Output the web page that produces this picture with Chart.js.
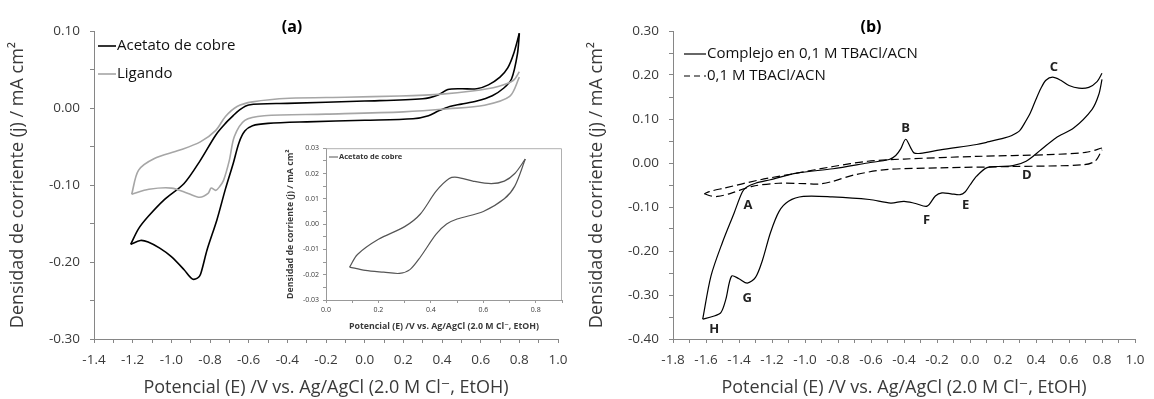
<!DOCTYPE html>
<html><head><meta charset="utf-8">
<script src="https://cdn.jsdelivr.net/npm/chart.js@4.4.1/dist/chart.umd.min.js"></script>
<style>
html,body{margin:0;padding:0;background:#fff;}
#wrap{position:relative;width:1154px;height:399px;overflow:hidden;background:#fff;}
.panel{position:absolute;top:0;width:577px;height:399px;}
#pa{left:0}#pb{left:577px}
#inset{position:absolute;left:282px;top:140px;width:288px;height:198px;background:#fff;}
canvas{display:block;}
</style></head><body>
<div id="wrap">
<div class="panel" id="pa"><canvas id="ca" width="577" height="399"></canvas></div>
<div class="panel" id="pb"><canvas id="cb" width="577" height="399"></canvas></div>
<div id="inset"><canvas id="ci" width="288" height="198"></canvas></div>
</div>
<script>
// ---------- Panel (a): Acetato de cobre (black) ----------
const aBlackUpE = [0.80,0.77,0.74,0.70,0.64,0.58,0.50,0.43,0.38,0.30,0.00,-0.40,-0.60,-0.65,-0.68,-0.72,-0.77,-0.85,-0.934,-1.036,-1.12,-1.17,-1.21];
const aBlackUpJ = [0.097,0.070,0.052,0.040,0.030,0.025,0.025,0.024,0.017,0.012,0.009,0.006,0.004,-0.003,-0.010,-0.020,-0.035,-0.068,-0.098,-0.119,-0.141,-0.157,-0.177];
const aBlackLoE = [-1.21,-1.16,-1.12,-1.06,-1.00,-0.934,-0.892,-0.865,-0.849,-0.815,-0.764,-0.72,-0.68,-0.65,-0.62,-0.58,-0.50,-0.30,0.00,0.25,0.33,0.38,0.44,0.50,0.58,0.66,0.72,0.76,0.79,0.80];
const aBlackLoJ = [-0.177,-0.172,-0.174,-0.182,-0.193,-0.210,-0.222,-0.221,-0.216,-0.184,-0.145,-0.105,-0.072,-0.045,-0.030,-0.023,-0.020,-0.018,-0.016,-0.014,-0.010,-0.004,0.002,0.005,0.009,0.016,0.026,0.038,0.070,0.097];
// ---------- Panel (a): Ligando (gray) ----------
const aGrayUpE = [0.80,0.77,0.69,0.556,0.40,0.18,-0.10,-0.39,-0.58,-0.66,-0.72,-0.77,-0.85,-0.96,-1.09,-1.17,-1.205];
const aGrayUpJ = [0.047,0.036,0.028,0.022,0.018,0.0156,0.014,0.0126,0.008,0.002,-0.011,-0.029,-0.044,-0.055,-0.066,-0.081,-0.112];
const aGrayLoE = [-1.205,-1.116,-1.00,-0.913,-0.853,-0.81,-0.794,-0.77,-0.75,-0.73,-0.70,-0.674,-0.62,-0.52,-0.20,0.20,0.435,0.62,0.75,0.80];
const aGrayLoJ = [-0.112,-0.1056,-0.104,-0.111,-0.116,-0.111,-0.104,-0.107,-0.102,-0.094,-0.068,-0.037,-0.016,-0.010,-0.008,-0.005,-0.001,0.0036,0.015,0.040];
// ---------- Inset: Acetato de cobre ----------
const inUpE = [0.09,0.12,0.20,0.30,0.36,0.42,0.47,0.50,0.56,0.63,0.68,0.72,0.76];
const inUpJ = [-0.017,-0.012,-0.006,-0.001,0.004,0.013,0.018,0.0185,0.017,0.016,0.017,0.020,0.0257];
const inLoE = [0.09,0.15,0.22,0.28,0.32,0.36,0.42,0.46,0.50,0.60,0.68,0.72,0.76];
const inLoJ = [-0.017,-0.0183,-0.019,-0.0195,-0.018,-0.013,-0.004,0.000,0.002,0.005,0.010,0.015,0.0257];
// ---------- Panel (b): Complejo (solid) ----------
const bUpE = [0.80,0.77,0.72,0.66,0.60,0.55,0.50,0.46,0.43,0.40,0.366,0.33,0.30,0.25,0.21,0.10,0.04,-0.18,-0.30,-0.34,-0.36,-0.39,-0.42,-0.45,-0.49,-0.62,-0.83,-1.05,-1.21,-1.30,-1.35,-1.38,-1.43,-1.50,-1.57,-1.62];
const bUpJ = [0.204,0.185,0.172,0.170,0.176,0.188,0.195,0.188,0.170,0.145,0.114,0.090,0.073,0.062,0.057,0.047,0.042,0.030,0.022,0.023,0.035,0.054,0.032,0.017,0.008,0.000,-0.013,-0.023,-0.038,-0.046,-0.054,-0.066,-0.114,-0.180,-0.257,-0.355];
const bLoE = [-1.62,-1.56,-1.51,-1.48,-1.445,-1.40,-1.35,-1.30,-1.257,-1.21,-1.157,-1.10,-1.01,-0.835,-0.61,-0.48,-0.40,-0.33,-0.26,-0.21,-0.17,-0.115,-0.06,-0.03,0.0,0.04,0.10,0.17,0.26,0.34,0.43,0.52,0.63,0.74,0.78,0.80];
const bLoJ = [-0.355,-0.349,-0.340,-0.310,-0.257,-0.263,-0.273,-0.260,-0.220,-0.159,-0.110,-0.087,-0.076,-0.077,-0.083,-0.091,-0.087,-0.092,-0.098,-0.075,-0.068,-0.070,-0.072,-0.066,-0.050,-0.030,-0.011,-0.008,-0.006,0.004,0.030,0.057,0.080,0.122,0.155,0.190];
// ---------- Panel (b): blank electrolyte (dashed) ----------
const dUpE = [0.80,0.70,0.475,0.04,-0.40,-0.62,-0.83,-1.05,-1.27,-1.49,-1.58,-1.61];
const dUpJ = [0.034,0.024,0.019,0.015,0.009,0.004,-0.008,-0.023,-0.038,-0.057,-0.065,-0.070];
const dLoE = [-1.61,-1.57,-1.53,-1.45,-1.32,-1.16,-1.00,-0.92,-0.835,-0.70,-0.51,-0.18,0.26,0.69,0.76,0.80];
const dLoJ = [-0.070,-0.075,-0.076,-0.069,-0.053,-0.046,-0.047,-0.048,-0.042,-0.027,-0.015,-0.011,-0.008,-0.004,0.005,0.030];
// ---------- Peak labels (b) ----------
const peakNames = ['A','B','C','D','E','F','G','H'];
const peakE = [-1.345,-0.39,0.508,0.344,-0.026,-0.263,-1.35,-1.55];
const peakJ = [-0.095,0.078,0.218,-0.027,-0.095,-0.130,-0.308,-0.377];
// ---------- Texts ----------
const legendA = ['Acetato de cobre','Ligando'];
const legendB = ['Complejo en 0,1 M TBACl/ACN','0,1 M TBACl/ACN'];
const insetLegend = 'Acetato de cobre';
const yTitle = 'Densidad de corriente (j) / mA cm²';
const xTitle = 'Potencial (E) /V vs. Ag/AgCl (2.0 M Cl⁻, EtOH)';
const panelTitles = ['(a)','(b)'];

const F = '"Open Sans", "DejaVu Sans", sans-serif';
const TXT = '#3a3a3a';
const AX = '#868686';

function pts(E,J){ return E.map((e,i)=>({x:e,y:J[i]})); }
function fmt(v,d){ if (Math.abs(v)<1e-9) v=0; return v.toFixed(d); }
function every(v,s){ const r=v/s; return Math.abs(r-Math.round(r))<1e-6; }

function line(data,color,width,dash){
  return {data, showLine:true, borderColor:color, borderWidth:width, borderDash:dash||[], pointRadius:0, fill:false, tension:0.3};
}

function axes(xmin,xmax,ymin,ymax,yStep,yLab,yDec,yW,xH,opt){
  return {
    x:{type:'linear',position:'bottom',min:xmin,max:xmax,
      ticks:{stepSize:opt.xStep,autoSkip:false,maxRotation:0,padding:opt.xPad,color:TXT,font:{family:F,size:opt.tick},
        callback:v=>every(v,opt.xLab)?fmt(v,1):''},
      grid:{drawOnChartArea:false,drawTicks:true,tickLength:opt.tl,color:opt.ax},
      border:{color:opt.ax,width:1},
      title:{display:true,text:xTitle,color:TXT,font:{family:F,size:opt.title,weight:opt.tw},padding:{top:0,bottom:opt.xtPad}},
      afterFit:s=>{s.height=xH;}
    },
    y:{type:'linear',position:'left',min:ymin,max:ymax,
      ticks:{stepSize:yStep,autoSkip:false,padding:opt.yPad,color:TXT,font:{family:F,size:opt.tick},
        callback:v=>every(v,yLab)?fmt(v,yDec):''},
      grid:{drawOnChartArea:false,drawTicks:true,tickLength:opt.tl,color:opt.ax},
      border:{color:opt.ax,width:1},
      title:{display:true,text:yTitle,color:TXT,font:{family:F,size:opt.title,weight:opt.tw},padding:{top:opt.ytPad,bottom:0}},
      afterFit:s=>{s.width=yW;}
    }
  };
}

const optA = {xStep:0.1,xLab:0.2,tick:13.5,title:18,tw:'normal',tl:4,xPad:9.5,yPad:10,xtPad:0,ytPad:7.2,ax:AX};
const optB = Object.assign({},optA,{ytPad:9.2});

// ---------- Panel (a) ----------
const overlayA = {id:'overlayA', afterDraw(c){
  const x=c.ctx; x.save();
  x.fillStyle='#000'; x.font='bold 16px '+F; x.textAlign='center'; x.textBaseline='middle';
  x.fillText(panelTitles[0],292,27);
  x.textAlign='left'; x.font='15px '+F; x.fillStyle='#111';
  const cols=['#000','#a6a6a6'], ys=[46,74];
  for(let i=0;i<2;i++){
    x.strokeStyle=cols[i]; x.lineWidth=1.6; x.beginPath(); x.moveTo(98,ys[i]); x.lineTo(116,ys[i]); x.stroke();
    x.fillText(legendA[i],117,ys[i]);
  }
  x.restore();
}};
new Chart(document.getElementById('ca'),{
  type:'scatter',
  data:{datasets:[
    line(pts(aGrayUpE,aGrayUpJ),'#a6a6a6',1.6),
    line(pts(aGrayLoE,aGrayLoJ),'#a6a6a6',1.6),
    line(pts(aBlackUpE,aBlackUpJ),'#000',1.6),
    line(pts(aBlackLoE,aBlackLoJ),'#000',1.6)
  ]},
  options:{responsive:false,animation:false,devicePixelRatio:1,
    layout:{padding:{top:31,right:10,left:0,bottom:0}},
    plugins:{legend:{display:false},tooltip:{enabled:false}},
    scales:axes(-1.4,1.0,-0.3,0.1,0.05,0.1,2,94,60,optA)
  },
  plugins:[overlayA]
});

// ---------- Inset ----------
const insetOpt = {xStep:0.1,xLab:0.2,tick:7,title:8.8,tw:'bold',tl:3,xPad:2.5,yPad:4,xtPad:6.7,ytPad:3.7,ax:'#999'};
const overlayI = {id:'overlayI', afterDraw(c){
  const x=c.ctx, a=c.chartArea; x.save();
  x.strokeStyle='#b0b0b0'; x.lineWidth=1;
  x.beginPath(); x.moveTo(a.left,a.top+0.5); x.lineTo(a.right-0.5,a.top+0.5); x.lineTo(a.right-0.5,a.bottom); x.stroke();
  x.strokeStyle='#555'; x.lineWidth=1; x.beginPath(); x.moveTo(a.left+3,17); x.lineTo(a.left+12,17); x.stroke();
  x.fillStyle='#333'; x.font='bold 7.5px '+F; x.textAlign='left'; x.textBaseline='middle';
  x.fillText(insetLegend,a.left+13,17);
  x.restore();
}};
new Chart(document.getElementById('ci'),{
  type:'scatter',
  data:{datasets:[
    line(pts(inUpE,inUpJ),'#555',1.2),
    line(pts(inLoE,inLoJ),'#555',1.2)
  ]},
  options:{responsive:false,animation:false,devicePixelRatio:1,
    layout:{padding:{top:7,right:8,left:0,bottom:0}},
    plugins:{legend:{display:false},tooltip:{enabled:false}},
    scales:axes(0,0.9,-0.03,0.03,0.005,0.01,2,44,38,insetOpt)
  },
  plugins:[overlayI]
});

// ---------- Panel (b) ----------
const overlayB = {id:'overlayB', afterDraw(c){
  const x=c.ctx; x.save();
  x.fillStyle='#000'; x.font='bold 16px '+F; x.textAlign='center'; x.textBaseline='middle';
  x.fillText(panelTitles[1],294,27);
  x.textAlign='left'; x.font='15px '+F; x.fillStyle='#111';
  const ys=[54,76], dashes=[[],[6,4]];
  for(let i=0;i<2;i++){
    x.strokeStyle='#000'; x.lineWidth=1.2; x.setLineDash(dashes[i]);
    x.beginPath(); x.moveTo(107,ys[i]); x.lineTo(129,ys[i]); x.stroke();
    x.fillText(legendB[i],130,ys[i]);
  }
  x.setLineDash([]);
  x.font='bold 13px '+F; x.textAlign='center'; x.fillStyle='#222';
  const sx=c.scales.x, sy=c.scales.y;
  peakNames.forEach((n,i)=>x.fillText(n,sx.getPixelForValue(peakE[i]),sy.getPixelForValue(peakJ[i])));
  x.restore();
}};
new Chart(document.getElementById('cb'),{
  type:'scatter',
  data:{datasets:[
    line(pts(dUpE,dUpJ),'#000',1.2,[8,4]),
    line(pts(dLoE,dLoJ),'#000',1.2,[8,4]),
    line(pts(bUpE,bUpJ),'#000',1.2),
    line(pts(bLoE,bLoJ),'#000',1.2)
  ]},
  options:{responsive:false,animation:false,devicePixelRatio:1,
    layout:{padding:{top:31,right:11,left:0,bottom:0}},
    plugins:{legend:{display:false},tooltip:{enabled:false}},
    scales:axes(-1.8,1.0,-0.4,0.3,0.05,0.1,2,96,60,optB)
  },
  plugins:[overlayB]
});
</script>
</body></html>
